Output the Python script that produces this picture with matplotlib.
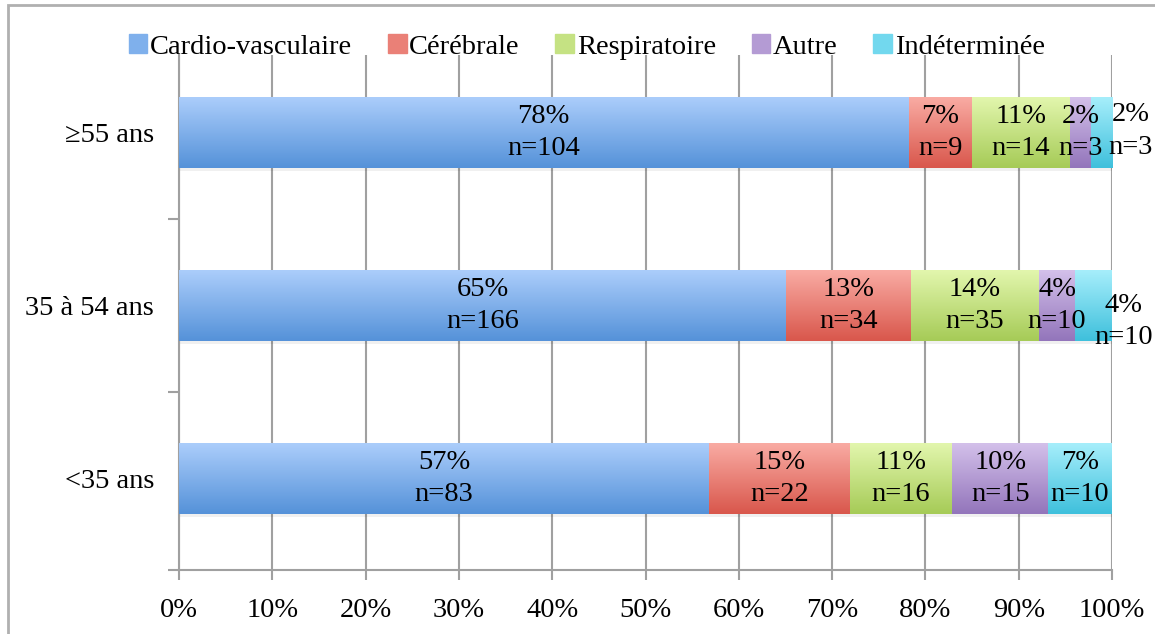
import numpy as np
import matplotlib
matplotlib.use("Agg")
import matplotlib.pyplot as plt
from matplotlib.colors import LinearSegmentedColormap
from matplotlib.patches import Rectangle

plt.rcParams['font.family'] = ['Liberation Serif', 'DejaVu Serif']

groups = ["<35 ans", "35 à 54 ans", "≥55 ans"]
causes = ["Cardio-vasculaire", "Cérébrale", "Respiratoire", "Autre", "Indéterminée"]
cardio = [83, 166, 104]
cerebrale = [22, 34, 9]
respiratoire = [16, 35, 14]
autre = [15, 10, 3]
indet = [10, 10, 3]
xticks = np.arange(0, 101, 10)

# gradient (top, bottom) per cause
grad = [("#abcdfb", "#5592d9"),
        ("#f9aba3", "#d9574c"),
        ("#e2f6ad", "#a6cb57"),
        ("#d3c0ea", "#9375bb"),
        ("#a6eefb", "#3fc0dc")]
mids = ["#7fb0ec", "#ea8077", "#c5e283", "#b49bd4", "#72d8ee"]

counts = np.array([cardio, cerebrale, respiratoire, autre, indet], dtype=float)
totals = counts.sum(axis=0)
pcts = counts / totals * 100

FS = 20.5

fig = plt.figure(figsize=(11.55, 6.34), dpi=100)
ax = fig.add_axes([179/1155, 1 - 570/634, (1112-179)/1155, (570-55)/634])

h = 0.41
y = np.arange(len(groups))
left = np.zeros(len(groups))
for i, cause in enumerate(causes):
    cmap = LinearSegmentedColormap.from_list(cause, [grad[i][1], grad[i][0]])
    bars = ax.barh(y, pcts[i], left=left, height=h, color=mids[i], label=cause,
                   zorder=3, linewidth=0)
    for j, b in enumerate(bars):
        x0, w = left[j], pcts[i][j]
        # faint shadow
        ax.add_patch(Rectangle((x0, y[j] - h/2 - 0.018), w, h, color="#000000",
                               alpha=0.06, lw=0, zorder=2.5))
        g = np.linspace(0, 1, 64).reshape(-1, 1)
        ax.imshow(g, cmap=cmap, aspect="auto", origin="lower", zorder=3.1,
                  extent=(x0, x0 + w, y[j] - h/2, y[j] + h/2), interpolation="bicubic")
        pct_txt = f"{pcts[i][j]:.0f}%\nn={int(counts[i][j])}"
        cx, cy = x0 + w/2, y[j]
        if i == 4 and j == 2:
            cx += 3.1
            cy += 0.01
        elif i == 4 and j == 1:
            cx += 3.2
            cy -= 0.09
        ax.text(cx, cy, pct_txt, ha="center", va="center", fontsize=FS,
                linespacing=1.38, zorder=5, color="black")
    left += pcts[i]

ax.set_xlim(0, 100)
ax.set_ylim(-0.53, 2.45)
ax.set_xticks(xticks)
ax.set_xticklabels([f"{v}%" for v in xticks], fontsize=FS)
ax.set_yticks(y)
ax.set_yticklabels(groups, fontsize=FS)
ax.set_yticks([-0.53, 0.5, 1.5], minor=True)
ax.tick_params(axis="y", which="major", length=0, pad=18)
ax.tick_params(axis="y", which="minor", length=8, width=1.5, color="#a0a0a0")
ax.tick_params(axis="x", length=7, width=1.5, color="#a0a0a0", pad=13)
ax.grid(axis="x", color="#a0a0a0", lw=1.5, zorder=0)
ax.set_axisbelow(True)
for s in ["top", "right"]:
    ax.spines[s].set_visible(False)
for s in ["left", "bottom"]:
    ax.spines[s].set_color("#a0a0a0")
    ax.spines[s].set_linewidth(1.5)

handles = [Rectangle((0, 0), 1, 1, color=c) for c in mids]
fig.legend(handles, causes, loc="center", bbox_to_anchor=(0.508, 1 - 47/634), ncol=5,
           frameon=False, fontsize=FS, handlelength=0.65, handleheight=0.65,
           handletextpad=0.1, columnspacing=1.25, borderaxespad=0)

fig.patches.append(Rectangle((8/1155, -0.1), 1.1, 1 - 5/634 + 0.1, transform=fig.transFigure,
                             fill=False, edgecolor="#b0b0b0", lw=2))

fig.savefig("out.png", dpi=100)
